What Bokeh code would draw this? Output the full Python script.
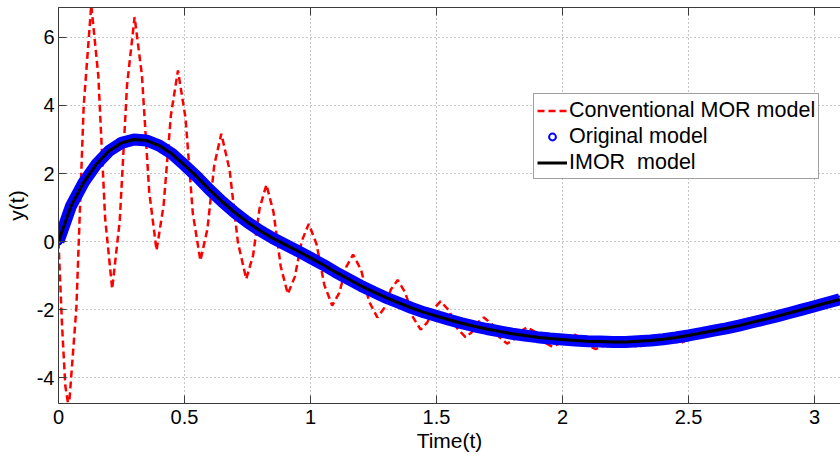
from bokeh.plotting import figure
from bokeh.models import Range1d, LinearAxis, FixedTicker, Legend, LegendItem
from bokeh.embed import file_html
from bokeh.resources import INLINE

# ---- data ----
t_model = [0.00, 0.05, 0.10, 0.15, 0.20, 0.25, 0.30, 0.35, 0.40, 0.45,
           0.50, 0.55, 0.60, 0.65, 0.70, 0.75, 0.80, 0.85, 0.90, 0.95,
           1.00, 1.05, 1.10, 1.15, 1.20, 1.25, 1.30, 1.35, 1.40, 1.45,
           1.50, 1.55, 1.60, 1.65, 1.70, 1.75, 1.80, 1.85, 1.90, 1.95,
           2.00, 2.05, 2.10, 2.15, 2.20, 2.25, 2.30, 2.35, 2.40, 2.45,
           2.50, 2.55, 2.60, 2.65, 2.70, 2.75, 2.80, 2.85, 2.90, 2.95,
           3.00, 3.05, 3.10]
y_original = [0.00, 1.05, 1.74, 2.27, 2.66, 2.90, 3.00, 2.97, 2.82, 2.58,
              2.25, 1.90, 1.52, 1.17, 0.85, 0.57, 0.32, 0.10, -0.09, -0.28,
              -0.48, -0.68, -0.90, -1.10, -1.30, -1.48, -1.65, -1.80, -1.95, -2.08,
              -2.19, -2.30, -2.40, -2.49, -2.57, -2.64, -2.71, -2.76, -2.81, -2.85,
              -2.88, -2.91, -2.93, -2.94, -2.95, -2.95, -2.93, -2.91, -2.87, -2.82,
              -2.76, -2.69, -2.62, -2.55, -2.47, -2.38, -2.29, -2.20, -2.10, -2.00,
              -1.90, -1.80, -1.70]
y_imor = list(y_original)

t_conv = [0.000, 0.014, 0.027, 0.041, 0.071, 0.100, 0.130, 0.158, 0.185, 0.213,
          0.243, 0.272, 0.302, 0.331, 0.360, 0.389, 0.417, 0.446, 0.474, 0.504,
          0.533, 0.563, 0.591, 0.618, 0.646, 0.679, 0.712, 0.745, 0.772, 0.798,
          0.825, 0.853, 0.882, 0.910, 0.938, 0.965, 0.993, 1.024, 1.055, 1.086,
          1.114, 1.141, 1.169, 1.201, 1.233, 1.265, 1.292, 1.319, 1.346, 1.376,
          1.407, 1.437, 1.463, 1.490, 1.516, 1.549, 1.582, 1.615, 1.639, 1.664,
          1.688, 1.719, 1.749, 1.780, 1.807, 1.833, 1.860, 1.893, 1.926, 1.959,
          1.988, 2.016, 2.045, 2.074, 2.102, 2.131, 2.160, 2.188, 2.217, 2.245,
          2.272, 2.300, 2.330, 2.360, 2.390, 2.417, 2.443, 2.470, 2.550, 2.600,
          2.700, 2.800, 2.900, 3.000, 3.100]
y_conv = [0.00, -2.45, -4.24, -4.90, -1.94, 3.99, 6.95, 4.87, 0.69, -1.39,
          0.61, 4.60, 6.60, 4.89, 1.46, -0.26, 1.06, 3.71, 5.03, 3.63,
          0.83, -0.56, 0.37, 2.24, 3.17, 2.10, -0.03, -1.10, -0.41, 0.98,
          1.67, 0.87, -0.74, -1.54, -1.03, 0.01, 0.52, -0.08, -1.28, -1.88,
          -1.51, -0.76, -0.38, -0.84, -1.77, -2.23, -1.96, -1.41, -1.13, -1.50,
          -2.23, -2.59, -2.38, -1.97, -1.76, -2.02, -2.55, -2.81, -2.67, -2.38,
          -2.23, -2.42, -2.81, -3.00, -2.88, -2.64, -2.52, -2.66, -2.95, -3.09,
          -3.00, -2.81, -2.72, -2.83, -3.05, -3.16, -3.07, -2.90, -2.81, -2.88,
          -3.03, -3.10, -3.03, -2.89, -2.82, -2.86, -2.94, -2.98, -2.70, -2.62,
          -2.47, -2.29, -2.10, -1.90, -1.70]

x_ticks = [0, 0.5, 1, 1.5, 2, 2.5, 3]
x_tick_labels = ["0", "0.5", "1", "1.5", "2", "2.5", "3"]
y_ticks = [-4, -2, 0, 2, 4, 6]
y_tick_labels = ["-4", "-2", "0", "2", "4", "6"]

FONT = "Liberation Sans"
AX = "#3a3a3a"

p = figure(width=840, height=456, x_range=Range1d(0, 3.103), y_range=Range1d(-4.76, 6.88),
           output_backend="svg", toolbar_location=None,
           min_border_left=58, min_border_right=0, min_border_top=7, min_border_bottom=53)
p.outline_line_color = None
p.background_fill_color = "white"
p.border_fill_color = "white"

# axes
for ax in (p.xaxis[0], p.yaxis[0]):
    ax.axis_line_color = AX
    ax.major_tick_line_color = AX
    ax.major_tick_in = 8
    ax.major_tick_out = 0
    ax.minor_tick_line_color = None
    ax.major_label_text_font = FONT
    ax.major_label_text_font_size = "20px"
    ax.major_label_text_color = "black"
    ax.axis_label_text_font = FONT
    ax.axis_label_text_font_size = "21px"
    ax.axis_label_text_font_style = "normal"
    ax.axis_label_text_color = "black"

p.xaxis.ticker = FixedTicker(ticks=x_ticks)
p.xaxis.major_label_overrides = dict(zip(x_ticks, x_tick_labels))
p.xaxis.axis_label = "Time(t)"
p.xaxis.major_label_standoff = 6
p.xaxis.axis_label_standoff = 2

p.yaxis.ticker = FixedTicker(ticks=y_ticks)
p.yaxis.major_label_overrides = dict(zip(y_ticks, y_tick_labels))
p.yaxis.axis_label = "y(t)"
p.yaxis.major_label_standoff = 4
p.yaxis.axis_label_standoff = 6

top = LinearAxis(ticker=FixedTicker(ticks=x_ticks), major_label_text_font_size="0px",
                 major_tick_in=8, major_tick_out=0, minor_tick_line_color=None,
                 axis_line_color=AX, major_tick_line_color=AX, major_label_standoff=0)
top.major_label_overrides = {t: "" for t in x_ticks}
p.add_layout(top, "above")

# grid
p.xgrid.ticker = FixedTicker(ticks=x_ticks)
p.ygrid.ticker = FixedTicker(ticks=y_ticks)
for g in (p.xgrid[0], p.ygrid[0]):
    g.grid_line_color = "#8a8a8a"
    g.grid_line_dash = "1 3"
    g.grid_line_width = 1

# glyphs
r_conv = p.line(t_conv, y_conv, line_color="#ff0000", line_width=2.5, line_dash="7 4")
p.line(t_model, y_original, line_color="#0000ff", line_width=12)
r_orig = p.scatter(t_model, y_original, marker="circle", size=6, fill_color=None,
                   line_color="#0000ff", line_width=2)
r_imor = p.line(t_model, y_imor, line_color="black", line_width=3)

legend = Legend(items=[
    LegendItem(label="Conventional MOR model", renderers=[r_conv]),
    LegendItem(label="Original model", renderers=[r_orig]),
    LegendItem(label="IMOR\u00a0 model", renderers=[r_imor]),
], location=(475, 224))
legend.label_text_font = FONT
legend.label_text_font_size = "21.5px"
legend.label_text_color = "black"
legend.glyph_width = 30
legend.glyph_height = 17
legend.label_height = 26
legend.label_standoff = 2
legend.spacing = 0
legend.padding = 3
legend.margin = 0
legend.border_line_color = "#444444"
legend.border_line_width = 1
legend.background_fill_color = "white"
legend.background_fill_alpha = 1.0
p.add_layout(legend)

open("out.html", "w").write(file_html(p, INLINE))
